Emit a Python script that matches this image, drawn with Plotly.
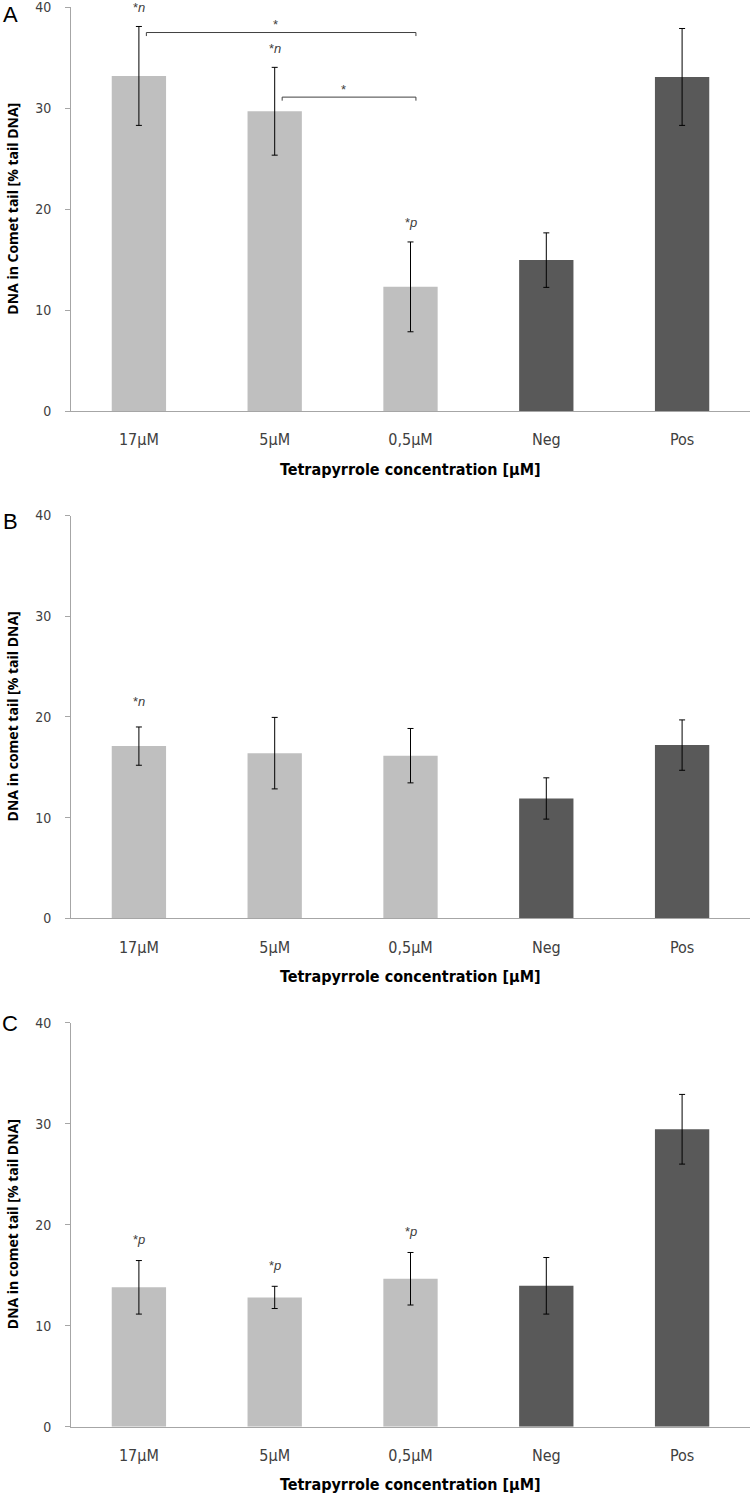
import plotly.graph_objects as go

# ---------------- data ----------------
categories = ["17μM", "5μM", "0,5μM", "Neg", "Pos"]
is_control = [False, False, False, True, True]

a_means = [33.2, 29.7, 12.3, 14.95, 33.1]
a_err = [4.9, 4.35, 4.45, 2.7, 4.8]
b_means = [17.1, 16.4, 16.15, 11.9, 17.2]
b_err = [1.9, 3.55, 2.7, 2.05, 2.5]
c_means = [13.8, 12.8, 14.65, 13.95, 29.45]
c_err = [2.65, 1.1, 2.6, 2.8, 3.45]

y_ticks = [0, 10, 20, 30, 40]
panel_letters = ["A", "B", "C"]
y_titles = ["DNA in Comet tail [% tail DNA]",
            "DNA in comet tail [% tail DNA]",
            "DNA in comet tail [% tail DNA]"]
x_title = "Tetrapyrrole concentration [μM]"

# significance labels: (category index, letter, y)
a_marks = [(0, "n", 40.0), (1, "n", 35.9), (2, "p", 18.7)]
b_marks = [(0, "n", 21.5)]
c_marks = [(0, "p", 18.5), (1, "p", 16.0), (2, "p", 19.3)]
# brackets: (from idx, to idx, bracket y, star y)
a_brackets = [(0, 2, 37.5, 38.3), (1, 2, 31.1, 31.9)]

panels = [
    (a_means, a_err, a_marks, a_brackets),
    (b_means, b_err, b_marks, []),
    (c_means, c_err, c_marks, []),
]

# ---------------- layout constants (pixels) ----------------
W, H = 750, 1495
LEFT = 71
panel_px = [(7.3, 411.0), (515.5, 918.3), (1022.7, 1426.7)]
letter_y = [14.5, 521.0, 1023.0]
LIGHT = "#BFBFBF"
DARK = "#595959"
AXIS = "#A6A6A6"
TXT = "#404040"
TICKFONT = "Liberation Sans Narrow, DejaVu Sans Condensed, Open Sans"

fig = go.Figure()
layout = dict(
    width=W, height=H,
    margin=dict(l=0, r=0, t=0, b=0, autoexpand=False),
    paper_bgcolor="white", plot_bgcolor="white",
    showlegend=False, bargap=0.6,
    annotations=[], shapes=[],
)


def py(p):
    return 1 - p / H


for i, (means, errs, marks, brackets) in enumerate(panels):
    n = i + 1
    xa = "x" if n == 1 else f"x{n}"
    ya = "y" if n == 1 else f"y{n}"
    colors = [DARK if c else LIGHT for c in is_control]
    fig.add_trace(go.Bar(
        x=categories, y=means, xaxis=xa, yaxis=ya,
        marker=dict(color=colors, line=dict(width=0)),
        width=0.4,
        error_y=dict(type="data", array=errs, visible=True,
                     color="black", thickness=1, width=3),
        hoverinfo="skip",
    ))
    top, bot = panel_px[i]
    layout[f"xaxis{'' if n == 1 else n}"] = dict(
        domain=[LEFT / W, 1.0], anchor=ya, type="category",
        range=[-0.5, len(categories) - 0.5], automargin=False,
        showline=True, linecolor=AXIS, linewidth=1,
        ticks="", showgrid=False, zeroline=False,
        tickfont=dict(family=TICKFONT, size=16, color=TXT),
        ticklabelstandoff=14, ticklabeloverflow="allow", fixedrange=True,
    )
    layout[f"yaxis{'' if n == 1 else n}"] = dict(
        domain=[py(bot), py(top)], anchor=xa, automargin=False,
        range=[0, 40], tickvals=y_ticks,
        showline=True, linecolor=AXIS, linewidth=1,
        ticks="outside", ticklen=5, tickcolor=AXIS,
        showgrid=False, zeroline=False,
        tickfont=dict(family=TICKFONT, size=14, color=TXT),
        ticklabelstandoff=11, ticklabeloverflow="allow", fixedrange=True,
    )
    # panel letter
    layout["annotations"].append(dict(
        text=panel_letters[i], x=10 / W, y=py(letter_y[i]),
        xref="paper", yref="paper", xanchor="center", yanchor="middle",
        showarrow=False, font=dict(family="Liberation Sans, Arial", size=22, color="black"),
    ))
    # y title
    layout["annotations"].append(dict(
        text=f"<b>{y_titles[i]}</b>", x=12.5 / W, y=py((top + bot) / 2),
        xref="paper", yref="paper", xanchor="center", yanchor="middle",
        textangle=-90, showarrow=False,
        font=dict(family="Open Sans", size=14, color="black"),
    ))
    # x title
    layout["annotations"].append(dict(
        text=f"<b>{x_title}</b>", x=(LEFT + (W - LEFT) / 2) / W, y=py(bot + 58),
        xref="paper", yref="paper", xanchor="center", yanchor="middle",
        showarrow=False,
        font=dict(family=TICKFONT, size=16, color="black"),
    ))
    # significance labels
    for idx, letter, yv in marks:
        layout["annotations"].append(dict(
            text=f"*<i>{letter}</i>", x=idx, y=yv, xref=xa, yref=ya,
            xanchor="center", yanchor="middle", showarrow=False,
            font=dict(family="Liberation Sans, Arial", size=13, color=TXT),
        ))
    # brackets
    for a, b, yb, ys in brackets:
        x0, x1 = a + 0.055, b + 0.04
        drop = 0.35
        layout["shapes"].append(dict(
            type="path", xref=xa, yref=ya,
            path=f"M {x0},{yb - drop} L {x0},{yb} L {x1},{yb} L {x1},{yb - drop}",
            line=dict(color="#404040", width=1),
        ))
        layout["annotations"].append(dict(
            text="*", x=(x0 + x1) / 2 - 0.04, y=ys, xref=xa, yref=ya,
            xanchor="center", yanchor="middle", showarrow=False,
            font=dict(family="Liberation Sans, Arial", size=13, color=TXT),
        ))

fig.update_layout(**layout)
post = (
    "document.documentElement.style.margin='0';"
    "document.body.style.margin='0';document.body.style.padding='0';"
    "document.body.style.overflow='hidden';"
    "var d=document.getElementById('{plot_id}');"
    "d.style.position='fixed';d.style.top='0px';d.style.left='0px';"
)
fig.write_html("out.html", config={"displayModeBar": False}, post_script=post)
